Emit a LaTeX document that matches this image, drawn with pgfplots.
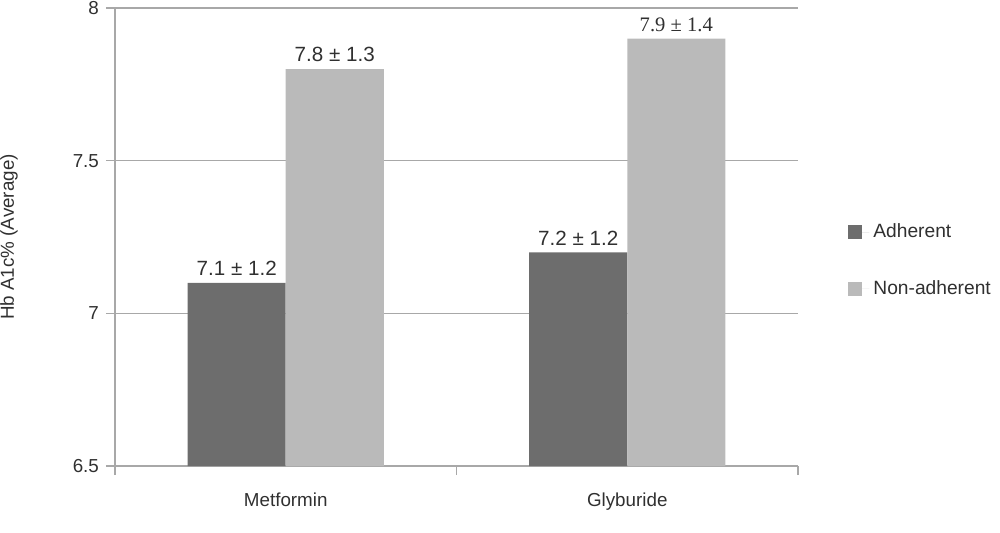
\documentclass[border=0pt]{standalone}
\usepackage{pgfplots}
\pgfplotsset{compat=1.18}
\usepackage{fontspec}
\setmainfont{Liberation Sans}
\newfontfamily\timesfont{Liberation Serif}

\definecolor{adh}{HTML}{6D6D6D}
\definecolor{nonadh}{HTML}{BABABA}
\definecolor{gridgray}{HTML}{A8A8A8}
\definecolor{txt}{HTML}{303030}

\begin{document}
\begin{tikzpicture}[font=\fontsize{9.4}{11}\selectfont, color=txt]
\useasboundingbox (-57.5pt,-33pt) rectangle (442.5pt,233pt);
\begin{axis}[
    at={(0,0)}, anchor=south west,
    scale only axis,
    width=341.5pt, height=229pt,
    ybar=0pt,
    bar width=0.287,
    xmin=-0.5, xmax=1.5,
    ymin=6.5, ymax=8,
    ytick={6.5,7,7.5,8},
    yticklabels={6.5,7,7.5,8},
    xtick={-0.5,0.5,1.5},
    xticklabels={},
    extra x ticks={0,1},
    extra x tick labels={Metformin,Glyburide},
    extra x tick style={major tick length=0pt},
    ymajorgrids,
    grid style={gridgray, line width=0.6pt},
    axis x line*=bottom,
    axis y line*=left,
    axis line style={gridgray, line width=0.6pt, -},
    tick style={gridgray, line width=0.6pt},
    tick align=outside,
    major tick length=4.5pt,
    xticklabel style={yshift=-10pt},
    yticklabel style={xshift=0pt},
    every axis y label/.style={at={(rel axis cs:0,0.5)}, xshift=-53pt, rotate=90, anchor=center},
    ylabel={Hb A1c\% (Average)},
    nodes near coords,
    point meta=explicit symbolic,
    every node near coord/.append style={font=\fontsize{10.3}{12}\selectfont, color=txt},
    legend style={at={(rel axis cs:1,0.5)}, anchor=west, xshift=25pt, yshift=-11.75pt,
        draw=none, fill=none, inner sep=0pt, row sep=16pt,
        font=\fontsize{9.6}{11}\selectfont, text=txt},
    legend cell align=left,
]
\addplot[fill=adh, draw=none,
    legend image code/.code={\fill[adh] (0pt,-3.5pt) rectangle (7pt,3.5pt); \path (0pt,0pt) -- (10.5pt,0pt);}]
    coordinates {(0,7.1) [7.1 ± 1.2] (1,7.2) [7.2 ± 1.2]};
\addlegendentry{Adherent}
\addplot[fill=nonadh, draw=none,
    legend image code/.code={\fill[nonadh] (0pt,-3.5pt) rectangle (7pt,3.5pt); \path (0pt,0pt) -- (10.5pt,0pt);}]
    coordinates {(0,7.8) [7.8 ± 1.3] (1,7.9) [{\timesfont 7.9 ± 1.4}]};
\addlegendentry{Non-adherent}
\end{axis}
\end{tikzpicture}
\end{document}
